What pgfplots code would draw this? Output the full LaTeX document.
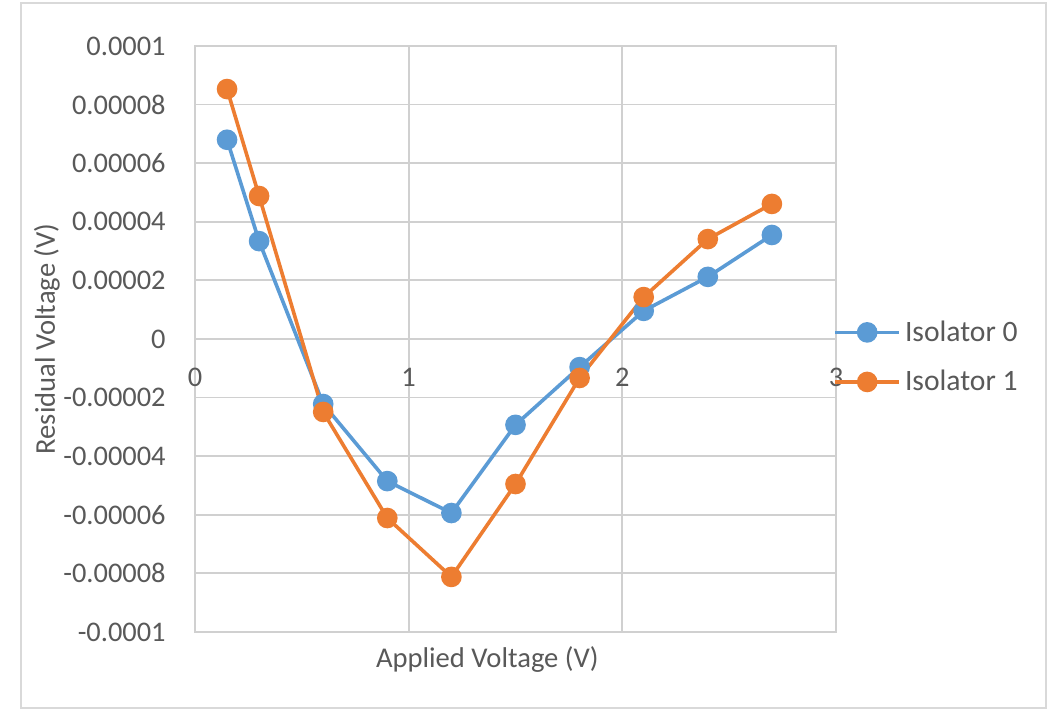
\documentclass[border=0pt]{standalone}
\usepackage{fontspec}
\setmainfont{Carlito}
\usepackage{pgfplots}
\pgfplotsset{compat=1.18}
\definecolor{sblue}{HTML}{5B9BD5}
\definecolor{sorange}{HTML}{ED7D31}
\definecolor{gridc}{HTML}{D9D9D9}
\definecolor{txt}{HTML}{595959}
\begin{document}
\begin{tikzpicture}
\path[use as bounding box] (0,0) rectangle (528pt,355.5pt);
\draw[gridc, line width=0.8pt, fill=white] (10.5pt,1.5pt) rectangle (523pt,354pt);
\begin{axis}[
  at={(97.5pt,39.5pt)}, anchor=south west,
  scale only axis, width=320.5pt, height=293pt,
  xmin=0, xmax=3, ymin=-0.0001, ymax=0.0001,
  xtick={0,1,2,3}, ytick={-0.0001,-0.00008,-0.00006,-0.00004,-0.00002,0,0.00002,0.00004,0.00006,0.00008,0.0001},
  yticklabels={-0.0001,-0.00008,-0.00006,-0.00004,-0.00002,0,0.00002,0.00004,0.00006,0.00008,0.0001},
  scaled y ticks=false,
  grid=major, major grid style={gridc!90!gray, line width=0.9pt},
  axis line style={gridc!90!gray, line width=0.9pt},
  major tick length=0pt,
  tick label style={font=\fontsize{14.2pt}{17pt}\selectfont, text=txt},
  /pgf/number format/assume math mode=true,
  yticklabel style={anchor=east, inner sep=0pt, xshift=-14.5pt},
  xticklabel style={anchor=center, inner sep=0pt, yshift=127.5pt},
  xlabel={Applied Voltage (V)}, ylabel={Residual Voltage (V)},
  label style={font=\fontsize{14.3pt}{17pt}\selectfont, text=txt},
  xlabel style={at={(axis description cs:0.456,0)}, anchor=center, yshift=-14pt},
  ylabel style={at={(axis description cs:-0.231,0.5)}, anchor=center},
  legend style={at={(1,0.469)}, anchor=west, draw=none, fill=none, font=\fontsize{14.8pt}{17pt}\selectfont, text=txt, row sep=9pt, inner sep=0pt, xshift=-1.5pt},
  legend cell align=left,
  legend image code/.code={\draw[#1, mark repeat=2, mark phase=2] plot coordinates {(0pt,0pt) (16pt,0pt) (32pt,0pt)};},
  every axis plot/.append style={line width=1.8pt, mark=*, mark size=4.25pt, mark options={solid}},
]
\addplot[sblue, mark options={fill=sblue, draw=sblue}] coordinates {
(0.15,6.8e-5) (0.3,3.34e-5) (0.6,-2.22e-5) (0.9,-4.85e-5) (1.2,-5.94e-5)
(1.5,-2.93e-5) (1.8,-0.96e-5) (2.1,0.96e-5) (2.4,2.12e-5) (2.7,3.55e-5)};
\addlegendentry{Isolator 0}
\addplot[sorange, mark options={fill=sorange, draw=sorange}] coordinates {
(0.15,8.53e-5) (0.3,4.88e-5) (0.6,-2.49e-5) (0.9,-6.11e-5) (1.2,-8.12e-5)
(1.5,-4.95e-5) (1.8,-1.33e-5) (2.1,1.43e-5) (2.4,3.41e-5) (2.7,4.61e-5)};
\addlegendentry{Isolator 1}
\end{axis}
\end{tikzpicture}
\end{document}
